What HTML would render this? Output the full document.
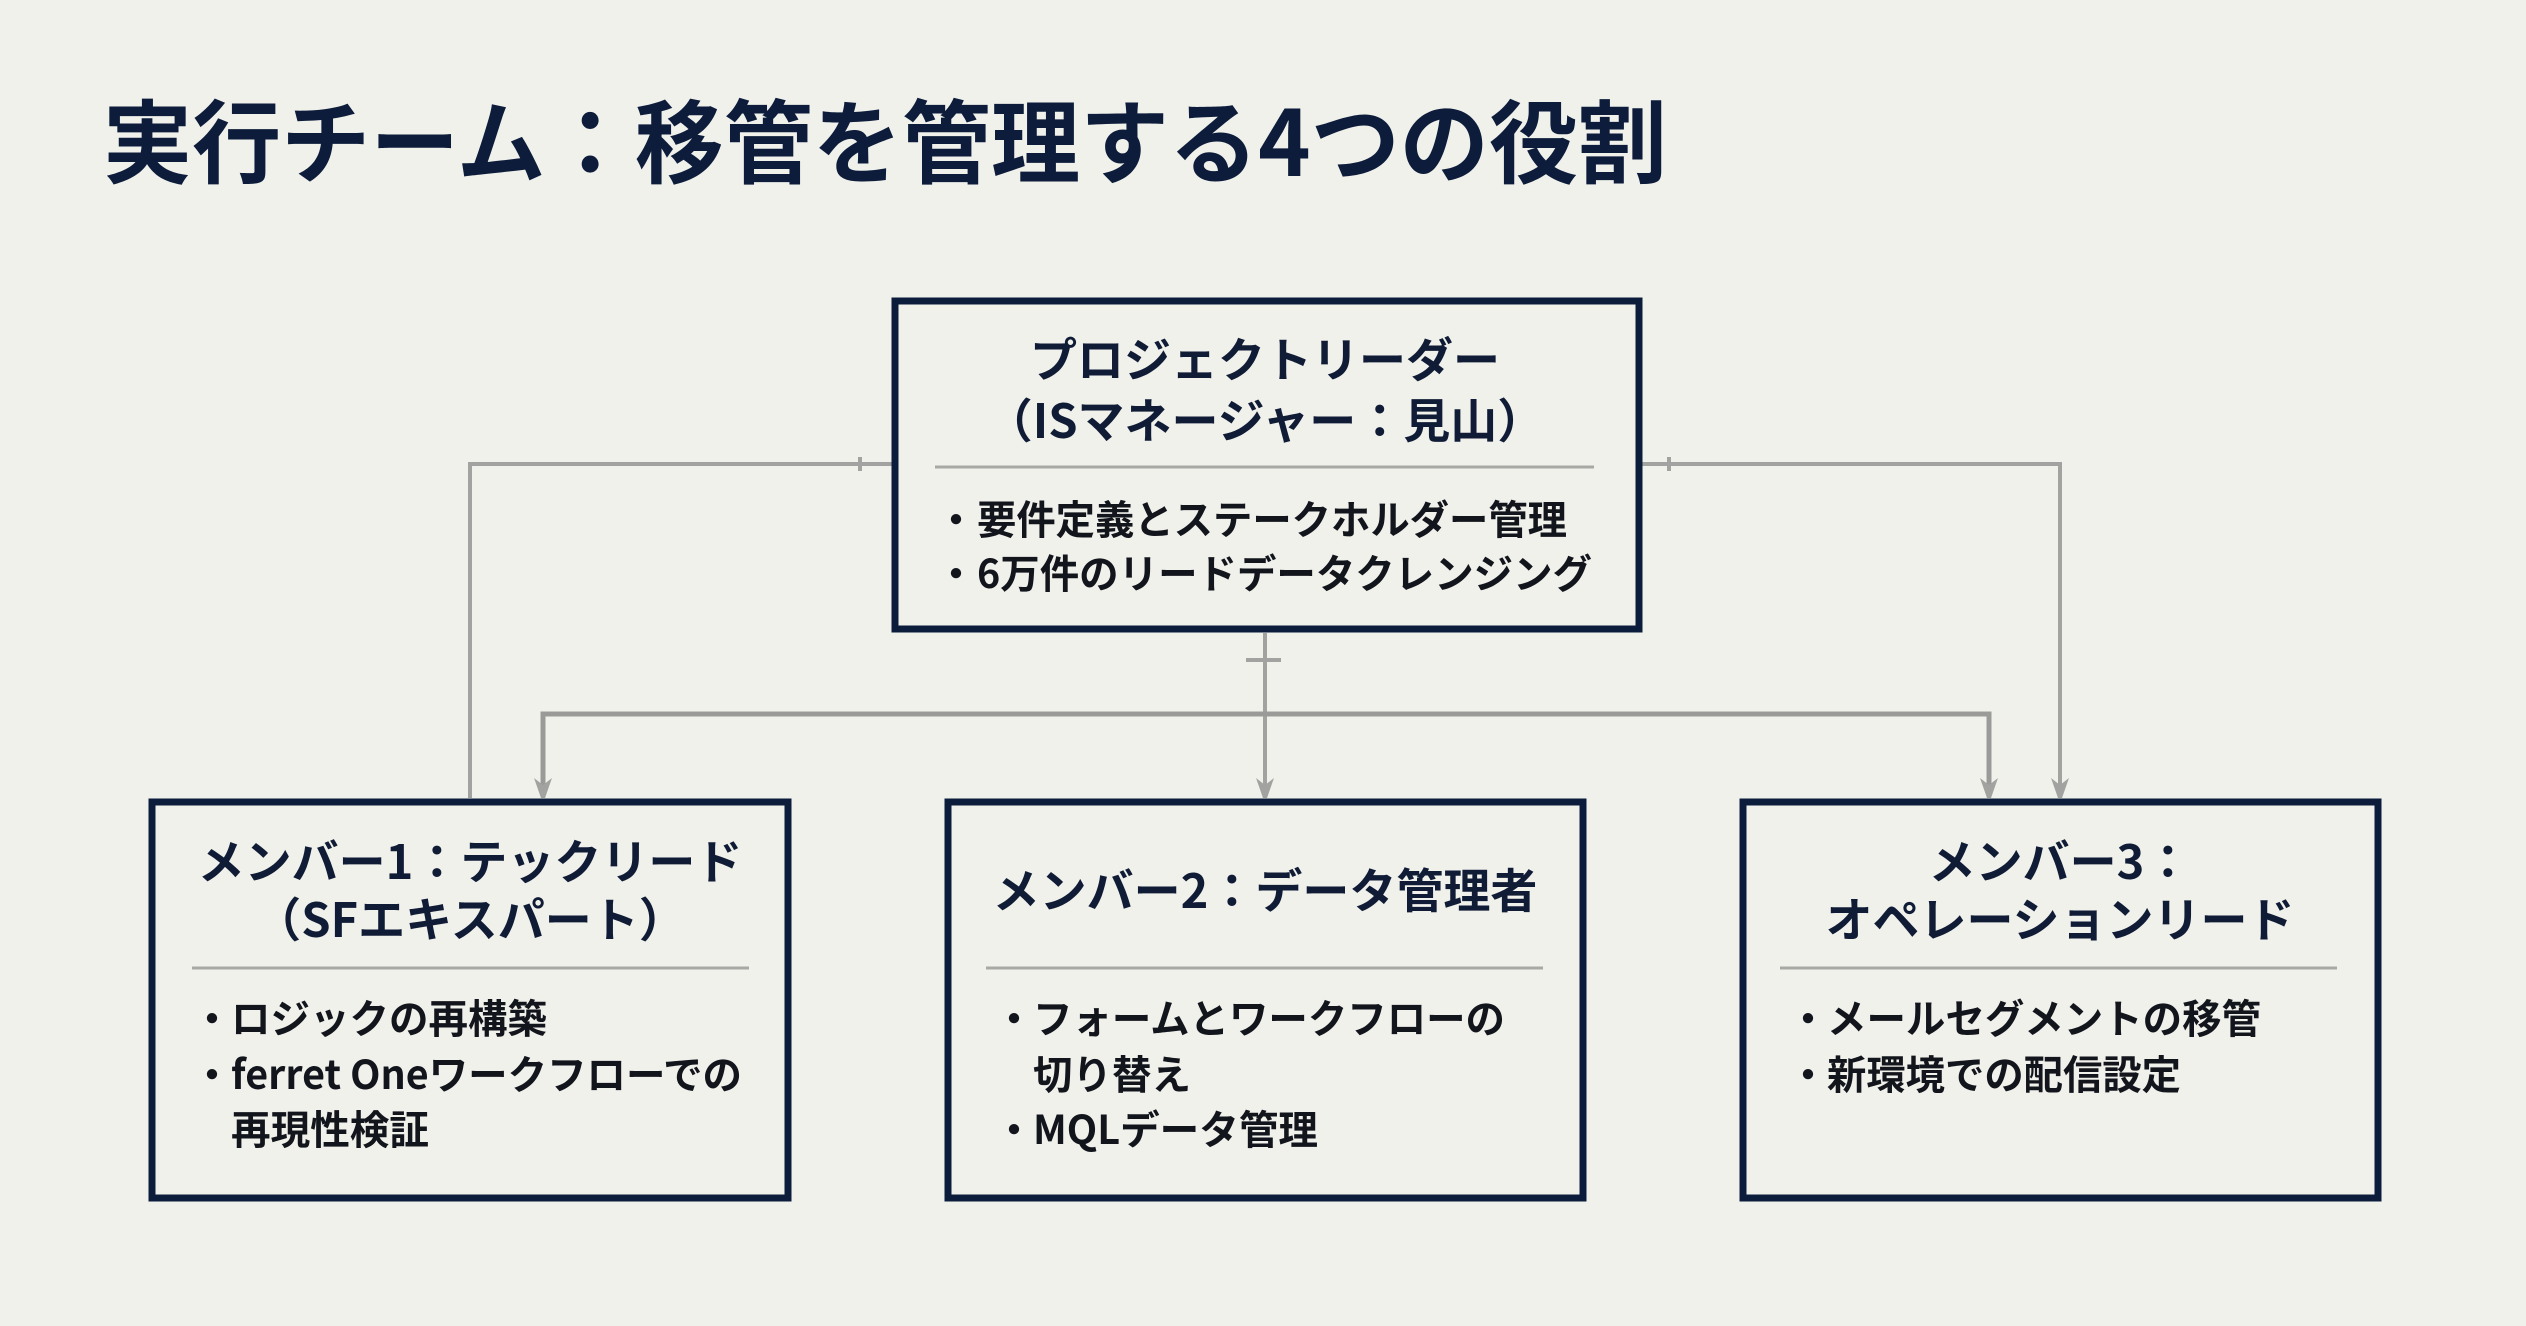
<!DOCTYPE html>
<html lang="ja"><head><meta charset="utf-8">
<style>
html,body{margin:0;padding:0;width:2526px;height:1326px;overflow:hidden;background:#f1f1ec}
svg{display:block}
text{font-family:"Noto Sans CJK JP","Liberation Sans",sans-serif;font-weight:700}
.t{fill:#0c1c3a}
.h{fill:#101c36;font-size:47px;text-anchor:middle}
.b{fill:#12151c;font-size:40px}
.box{fill:#f1f1ec;stroke:#0c1d3b;stroke-width:7}
.div{stroke:#a8a8a4;stroke-width:3}
.con{fill:none;stroke:#a2a2a0;stroke-width:4}
.arr{fill:#a2a2a0}
</style></head><body>
<svg width="2526" height="1326" viewBox="0 0 2526 1326" xmlns="http://www.w3.org/2000/svg">
<rect width="2526" height="1326" fill="#f1f1ec"/>
<text class="t" x="103" y="176" font-size="91" textLength="1564" lengthAdjust="spacingAndGlyphs">実行チーム：移管を管理する4つの役割</text>

<path class="con" d="M892 464H470V798"/>
<path class="con" d="M1642 464H2060V785"/>
<path class="con" d="M1265 633V785"/>
<path class="con" style="stroke:#9a9a98;stroke-width:5" d="M543 785V714H1989V785"/>
<path class="con" d="M1246 660H1281M860 457V471M1669 457V471" stroke-width="3"/>
<polygon class="arr" points="534,778 543,785 552,778 545,798 541,798"/>
<polygon class="arr" points="1256,778 1265,785 1274,778 1267,798 1263,798"/>
<polygon class="arr" points="1980,778 1989,785 1998,778 1991,798 1987,798"/>
<polygon class="arr" points="2051,778 2060,785 2069,778 2062,798 2058,798"/>

<rect class="box" x="895" y="301" width="744" height="328"/>
<rect class="box" x="152" y="802" width="636" height="396"/>
<rect class="box" x="948" y="802" width="635" height="396"/>
<rect class="box" x="1743" y="802" width="635" height="396"/>

<text class="h" x="1265" y="377">プロジェクトリーダー</text>
<text class="h" x="1265" y="438">（ISマネージャー：見山）</text>
<line class="div" x1="935" y1="467" x2="1594" y2="467"/>
<text class="b" x="936" y="534">・</text><text class="b" x="977" y="534" textLength="590" lengthAdjust="spacingAndGlyphs">要件定義とステークホルダー管理</text>
<text class="b" x="936" y="588">・</text><text class="b" x="977" y="588" textLength="615" lengthAdjust="spacingAndGlyphs">6万件のリードデータクレンジング</text>

<text class="h" x="470" y="879">メンバー1：テックリード</text>
<text class="h" x="470" y="937">（SFエキスパート）</text>
<line class="div" x1="192" y1="968" x2="749" y2="968"/>
<text class="b" x="192" y="1033">・</text><text class="b" x="231" y="1033" textLength="316" lengthAdjust="spacingAndGlyphs">ロジックの再構築</text>
<text class="b" x="192" y="1089">・</text><text class="b" x="231" y="1089" textLength="511" lengthAdjust="spacingAndGlyphs">ferret Oneワークフローでの</text>
<text class="b" x="231" y="1144" textLength="198" lengthAdjust="spacingAndGlyphs">再現性検証</text>

<text class="h" x="1265" y="908">メンバー2：データ管理者</text>
<line class="div" x1="986" y1="968" x2="1543" y2="968"/>
<text class="b" x="994" y="1033">・</text><text class="b" x="1033" y="1033" textLength="472" lengthAdjust="spacingAndGlyphs">フォームとワークフローの</text>
<text class="b" x="1033" y="1089" textLength="158" lengthAdjust="spacingAndGlyphs">切り替え</text>
<text class="b" x="994" y="1144">・</text><text class="b" x="1033" y="1144" textLength="285" lengthAdjust="spacingAndGlyphs">MQLデータ管理</text>

<text class="h" x="2060" y="879">メンバー3：</text>
<text class="h" x="2060" y="937">オペレーションリード</text>
<line class="div" x1="1780" y1="968" x2="2337" y2="968"/>
<text class="b" x="1788" y="1033">・</text><text class="b" x="1827" y="1033" textLength="434" lengthAdjust="spacingAndGlyphs">メールセグメントの移管</text>
<text class="b" x="1788" y="1089">・</text><text class="b" x="1827" y="1089" textLength="354" lengthAdjust="spacingAndGlyphs">新環境での配信設定</text>
</svg>
</body></html>
